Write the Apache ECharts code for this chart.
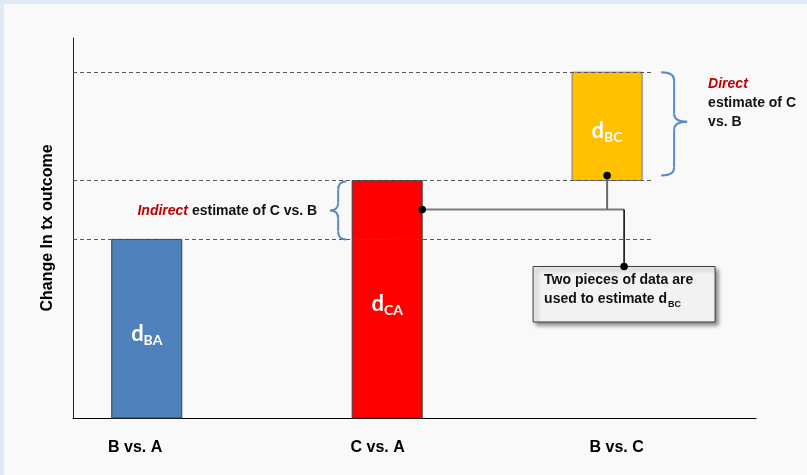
<!DOCTYPE html>
<html>
<head>
<meta charset="utf-8">
<script src="https://cdn.jsdelivr.net/npm/echarts@6/dist/echarts.min.js"></script>
<style>
  html, body { margin: 0; padding: 0; background: #e0e9f4; }
  #panel { position: absolute; left: 4px; top: 4px; right: 0; bottom: 0; background: #f9f9f9; }
  #chart { position: absolute; left: 0; top: 0; width: 807px; height: 475px; }
</style>
</head>
<body>
<div id="panel"></div>
<div id="chart"></div>
<script>
// Comparisons shown along the x axis
const categories = ['B vs. A', 'C vs. A', 'B vs. C'];
// Bar centres and category-label anchors on the x scale
const barPositions = [1.08, 4.6, 7.82];
const labelPositions = [0.91, 4.46, 7.96];
// Each bar runs from its base to its top (change in treatment outcome)
const barBase = [0, 0, 6.25];
const barTop = [4.7, 6.25, 9.1];
const barSubscripts = ['BA', 'CA', 'BC'];
// Dashed guide lines stop a little past the last bar
const guideLevels = [4.7, 6.25, 9.1];
const guideEnd = 8.48;

const fills = ['#4f81bd', '#ff0000', '#ffc000'];
const strokes = ['#3a3a3a', '#3a3a3a', '#7a7a7a'];
const BAR_W = 70;
const TEXT_FONT = '"Liberation Sans", Arial, sans-serif';

const chart = echarts.init(document.getElementById('chart'), null, { renderer: 'canvas' });

const barData = barPositions.map((x, i) => [x, barBase[i], barTop[i]]);

chart.setOption({
  backgroundColor: 'transparent',
  animation: false,
  grid: { left: 73, right: 51, top: 38, bottom: 57, containLabel: false },
  xAxis: {
    type: 'value', min: 0, max: 10,
    axisLine: { show: true, onZero: false, lineStyle: { color: '#000', width: 1 } },
    axisTick: { show: false },
    splitLine: { show: false },
    axisLabel: {
      customValues: labelPositions,
      formatter: v => categories[labelPositions.indexOf(v)] || '',
      margin: 22,
      color: '#000',
      fontSize: 16,
      fontWeight: 'bold',
      fontFamily: '"Liberation Sans Narrow", "Liberation Sans", Arial, sans-serif'
    }
  },
  yAxis: {
    type: 'value', min: 0, max: 10,
    axisLine: { show: true, lineStyle: { color: '#222', width: 1 } },
    axisTick: { show: false },
    axisLabel: { show: false },
    splitLine: { show: false },
    name: 'Change In tx outcome',
    nameLocation: 'middle',
    nameRotate: 90,
    nameGap: 17,
    nameTextStyle: { color: '#000', fontSize: 16, fontWeight: 'bold', fontFamily: TEXT_FONT }
  },
  series: [{
    type: 'custom',
    data: barData,
    encode: { x: 0, y: [1, 2] },
    renderItem: (params, api) => {
      const i = params.dataIndex;
      const x = api.value(0);
      const lo = api.coord([x, api.value(1)]);
      const hi = api.coord([x, api.value(2)]);
      const cy = (lo[1] + hi[1]) / 2;
      return {
        type: 'group',
        children: [
          {
            type: 'rect',
            shape: { x: lo[0] - BAR_W / 2, y: hi[1], width: BAR_W, height: lo[1] - hi[1] },
            style: { fill: fills[i], stroke: strokes[i], lineWidth: 1 }
          },
          {
            type: 'text',
            x: lo[0], y: cy + 4.5,
            style: {
              text: '{d|d}{s|' + barSubscripts[i] + '}',
              align: 'center', verticalAlign: 'middle',
              rich: {
                d: { fontSize: 22, lineHeight: 21, verticalAlign: 'top', fill: '#fff', fontFamily: 'Lato, sans-serif', fontWeight: 'bold' },
                s: { fontSize: 14, lineHeight: 14, verticalAlign: 'top', padding: [10.5, 0, 0, 0], fill: '#fff', fontFamily: 'Lato, sans-serif', fontWeight: 'bold' }
              }
            }
          }
        ]
      };
    },
    markLine: {
      silent: true,
      symbol: 'none',
      label: { show: false },
      lineStyle: { color: '#555', type: [4, 3], width: 1 },
      data: guideLevels.map(v => [{ coord: [0, v] }, { coord: [guideEnd, v] }])
    },
    z: 2
  }]
});

// Annotations: braces, connectors and the call-out box, positioned from the axes
function px(x, y) { return chart.convertToPixel({ xAxisIndex: 0, yAxisIndex: 0 }, [x, y]); }

// curly brace built from quadratic curves and straight runs
function brace(xEnd, xTip, y0, y1, tipY, color) {
  const xm = (xEnd + xTip) / 2;
  const r = Math.min(8, (y1 - y0) / 4);
  const st = { stroke: color, lineWidth: 2, fill: null };
  const curve = (x1, y1_, cx, cy, x2, y2) =>
    ({ type: 'bezierCurve', shape: { x1: x1, y1: y1_, cpx1: cx, cpy1: cy, x2: x2, y2: y2 }, style: st, z: 10 });
  const seg = (x1, y1_, x2, y2) =>
    ({ type: 'line', shape: { x1: x1, y1: y1_, x2: x2, y2: y2 }, style: st, z: 10 });
  return [
    curve(xEnd, y0, xm, y0, xm, y0 + r),
    seg(xm, y0 + r, xm, tipY - r),
    curve(xm, tipY - r, xm, tipY, xTip, tipY),
    curve(xTip, tipY, xm, tipY, xm, tipY + r),
    seg(xm, tipY + r, xm, y1 - r),
    curve(xm, y1 - r, xm, y1, xEnd, y1)
  ];
}

const redTop = px(barPositions[1], barTop[1]);
const blueTop = px(barPositions[0], barTop[0]);
const yelTop = px(barPositions[2], barTop[2]);
const yelBot = px(barPositions[2], barBase[2]);
const redLeft = redTop[0] - BAR_W / 2;
const redRight = redTop[0] + BAR_W / 2;
const yelRight = yelTop[0] + BAR_W / 2;

// indirect brace spans the gap between the two bars measured against A
const indTop = redTop[1] + 1, indBot = blueTop[1];
const indMid = (indTop + indBot) / 2;
const indTipX = redLeft - 22;

// direct brace spans the B vs. C bar
const dirTop = yelTop[1], dirBot = yelBot[1] - 5;
const dirTipY = dirTop + (dirBot - dirTop) * 0.48;
const dirTipX = yelRight + 45;

const redDot = [redRight, indMid - 1];
const yelDot = [yelTop[0], yelBot[1] - 5];
const boxDotX = yelTop[0] + 17;
const boxLeft = yelTop[0] - 74, boxTop = 266.5, boxW = 182, boxH = 55.5;

const braceColor = '#5a8ac6';

chart.setOption({
  graphic: [].concat(
    brace(indTipX + 16, indTipX, indTop, indBot, indMid, braceColor),
    brace(dirTipX - 26, dirTipX, dirTop, dirBot, dirTipY, braceColor),
    [
      { type: 'text', x: indTipX - 13, y: indMid + 1, z: 10,
        style: {
          text: '{i|Indirect}{n| estimate of C vs. B}', align: 'right', verticalAlign: 'middle',
          rich: {
            i: { fontSize: 14, fontWeight: 'bold', fontStyle: 'italic', fill: '#c00000', fontFamily: TEXT_FONT },
            n: { fontSize: 14, fontWeight: 'bold', fill: '#111', fontFamily: TEXT_FONT }
          }
        } },
      { type: 'text', x: dirTipX + 21, y: dirTipY - 38 - 9.5, z: 10,
        style: {
          text: '{i|Direct}\n{n|estimate of C}\n{n|vs. B}', align: 'left', verticalAlign: 'top',
          rich: {
            i: { fontSize: 14, lineHeight: 19, fontWeight: 'bold', fontStyle: 'italic', fill: '#c00000', fontFamily: TEXT_FONT },
            n: { fontSize: 14, lineHeight: 19, fontWeight: 'bold', fill: '#111', fontFamily: TEXT_FONT }
          }
        } },
      // connectors
      { type: 'line', shape: { x1: redDot[0], y1: redDot[1], x2: boxDotX, y2: redDot[1] },
        style: { stroke: '#7a7a7a', lineWidth: 2 }, z: 10 },
      { type: 'line', shape: { x1: yelDot[0], y1: yelDot[1], x2: yelDot[0], y2: redDot[1] },
        style: { stroke: '#6a6a6a', lineWidth: 2 }, z: 10 },
      { type: 'line', shape: { x1: boxDotX, y1: redDot[1], x2: boxDotX, y2: boxTop },
        style: { stroke: '#000', lineWidth: 1.5 }, z: 10 },
      // call-out box
      { type: 'rect', shape: { x: boxLeft, y: boxTop, width: boxW, height: boxH },
        style: { fill: '#f2f2f2', stroke: '#3f3f3f', lineWidth: 1,
                 shadowBlur: 4, shadowOffsetX: 3, shadowOffsetY: 3, shadowColor: 'rgba(0,0,0,0.45)' }, z: 10 },
      { type: 'text', x: boxLeft + 11, y: boxTop + 7, z: 11,
        style: {
          text: '{t|Two pieces of data are}\n{t|used to estimate d}{s|BC}', align: 'left', verticalAlign: 'top',
          rich: {
            t: { fontSize: 14, lineHeight: 19, verticalAlign: 'top', fontWeight: 'bold', fill: '#111', fontFamily: TEXT_FONT },
            s: { fontSize: 9, lineHeight: 9, verticalAlign: 'top', padding: [8, 0, 0, 1], fontWeight: 'bold', fill: '#111', fontFamily: TEXT_FONT }
          }
        } },
      // dots
      { type: 'circle', shape: { cx: redDot[0], cy: redDot[1], r: 3.8 }, style: { fill: '#000' }, z: 12 },
      { type: 'circle', shape: { cx: yelDot[0], cy: yelDot[1], r: 3.8 }, style: { fill: '#000' }, z: 12 },
      { type: 'circle', shape: { cx: boxDotX, cy: boxTop, r: 3.8 }, style: { fill: '#000' }, z: 12 }
    ]
  )
});
</script>
</body>
</html>
